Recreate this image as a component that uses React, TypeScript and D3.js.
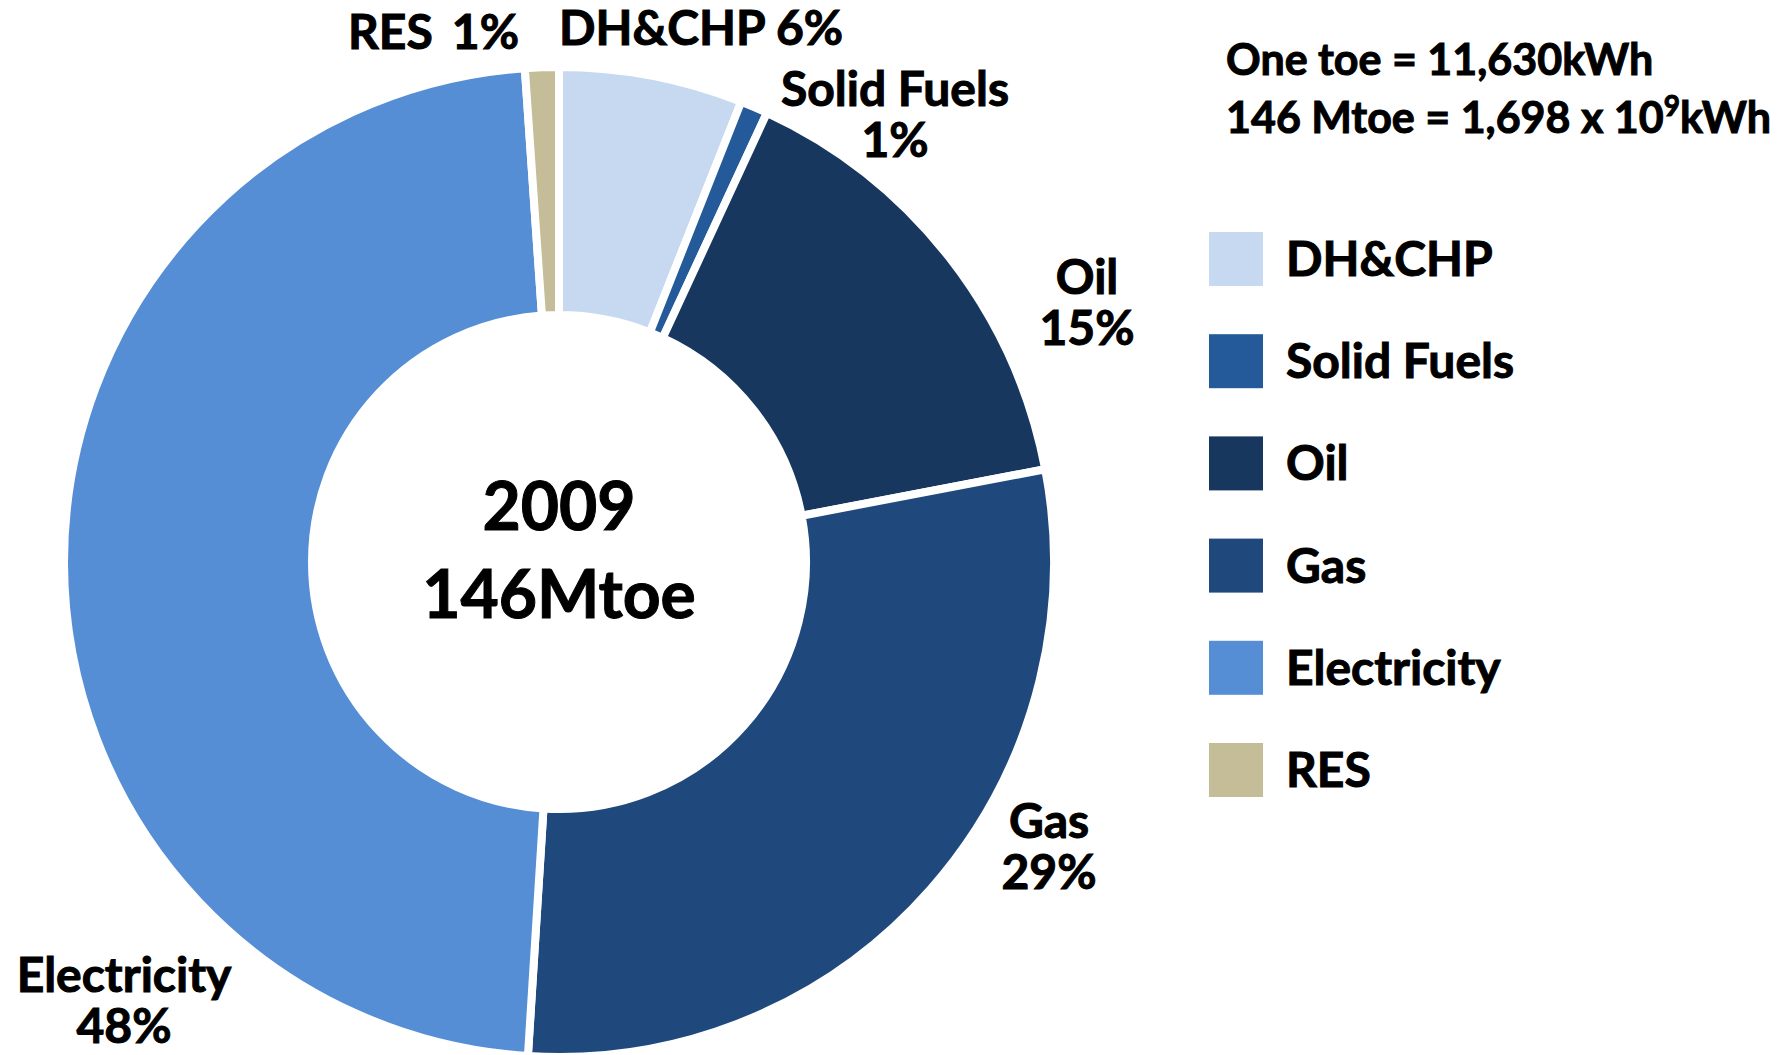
import * as d3 from "d3";
import { useEffect } from "react";

const categories = ["DH&CHP", "Solid Fuels", "Oil", "Gas", "Electricity", "RES"];
const shares = [6.0, 0.9, 15.1, 29.0, 47.9, 1.1];
const shareLabels = ["6%", "1%", "15%", "29%", "48%", "1%"];
const colors = ["#C6D9F1", "#255A9A", "#17375E", "#1F497D", "#558ED5", "#C4BD97"];

const centerLines = ["2009", "146Mtoe"];

const width = 1788;
const height = 1055;
const cx = 559;
const cy = 562;
const outerR = 495;
const innerR = 247;

const font = "Lato, 'Noto Sans', sans-serif";
const labelSize = 48;

// where each slice label sits (hand placed, like the original)
const labelPos = [
  { x: 559, y: 45, anchor: "start", inline: true },
  { x: 895, y: 106, anchor: "middle" },
  { x: 1087, y: 294, anchor: "middle" },
  { x: 1049, y: 838, anchor: "middle" },
  { x: 124, y: 992, anchor: "middle" },
  { x: 348, y: 49, anchor: "res" },
];

function App() {
  useEffect(() => {
    document.body.style.margin = "0";
  }, []);

  const pie = d3
    .pie<number>()
    .sort(null)
    .startAngle(0)
    .endAngle(2 * Math.PI)
    .value((d) => d);
  const arcs = pie(shares);
  const arc = d3.arc<d3.PieArcDatum<number>>().innerRadius(innerR).outerRadius(outerR);

  const legendY = d3
    .scalePoint<string>()
    .domain(categories)
    .range([259, 770]);

  const bold = { fontFamily: font, fontWeight: "bold", fill: "#000", stroke: "#000", strokeWidth: 1 };

  return (
    <svg width={width} height={height} style={{ display: "block", background: "#fff" }}>
      <g transform={`translate(${cx},${cy})`}>
        {arcs.map((a, i) => (
          <path key={i} d={arc(a) ?? ""} fill={colors[i]} stroke="#fff" strokeWidth={8} strokeLinejoin="miter" />
        ))}
        <g {...bold} fontSize={66}>
          {centerLines.map((t, i) => (
            <text key={t} x={0} y={i === 0 ? -32 : 56} textAnchor="middle">
              {t}
            </text>
          ))}
        </g>
      </g>

      <g {...bold} fontSize={labelSize}>
        {labelPos.map((p, i) => {
          if (p.anchor === "res") {
            return (
              <g key={i}>
                <text x={p.x} y={p.y}>{categories[i]}</text>
                <text x={519} y={p.y} textAnchor="end">{shareLabels[i]}</text>
              </g>
            );
          }
          if (p.inline) {
            return (
              <text key={i} x={p.x} y={p.y}>
                {categories[i]} {shareLabels[i]}
              </text>
            );
          }
          return (
            <g key={i}>
              <text x={p.x} y={p.y} textAnchor="middle">{categories[i]}</text>
              <text x={p.x} y={p.y + 51} textAnchor="middle">{shareLabels[i]}</text>
            </g>
          );
        })}
      </g>

      <g {...bold} fontSize={43}>
        <text x={1226} y={75}>One toe = 11,630kWh</text>
        <text x={1226} y={133}>
          146 Mtoe = 1,698 x 10
          <tspan fontSize={28} dy={-17}>9</tspan>
          <tspan dy={17}>kWh</tspan>
        </text>
      </g>

      <g {...bold} fontSize={labelSize}>
        {categories.map((c, i) => (
          <g key={c} transform={`translate(1209,${legendY(c)})`}>
            <rect x={0} y={-27} width={54} height={54} fill={colors[i]} stroke="none" />
            <text x={77} y={17}>{c}</text>
          </g>
        ))}
      </g>
    </svg>
  );
}

export default App;
